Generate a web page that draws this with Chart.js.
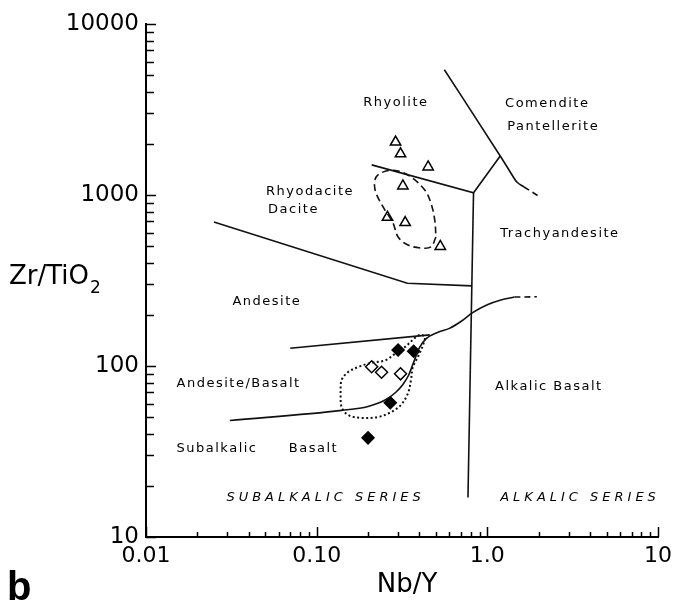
<!DOCTYPE html>
<html>
<head>
<meta charset="utf-8">
<script src="https://cdn.jsdelivr.net/npm/chart.js@4.4.1/dist/chart.umd.min.js"></script>
<style>
  html, body { margin: 0; padding: 0; background: #fff; }
  #wrap { width: 678px; height: 603px; position: relative; }
</style>
</head>
<body>
<div id="wrap"><canvas id="chart"></canvas></div>
<script>
// axis ticks
const xTickValues = [0.01, 0.1, 1, 10]
const xTickLabels = ["0.01", "0.10", "1.0", "10"]
const yTickValues = [10, 100, 1000, 10000]
const yTickLabels = ["10", "100", "1000", "10000"]

// samples: Nb/Y vs Zr/TiO2
const triangleX = [0.29, 0.31, 0.45, 0.32, 0.26, 0.33, 0.53]
const triangleY = [2040, 1740, 1460, 1130, 740, 690, 500]
const filledDiamondX = [0.30, 0.37, 0.27, 0.20]
const filledDiamondY = [124, 122, 61, 38]
const openDiamondX = [0.21, 0.24, 0.31]
const openDiamondY = [99, 92, 90]

// field boundaries
const rhyodaciteLineX = [0.025, 0.34, 0.81]
const rhyodaciteLineY = [695, 305, 294]
const alkalicLineX = [0.83, 0.77]
const alkalicLineY = [1030, 17]
const rhyoliteLineX = [0.21, 0.83, 1.19]
const rhyoliteLineY = [1500, 1030, 1690]
const comenditeLineX = [0.56, 1.19, 1.34, 1.49, 1.64]
const comenditeLineY = [5400, 1690, 1400, 1190, 1114]
const comenditeDashX = [1.64, 2.03]
const comenditeDashY = [1114, 975]
const andesiteBasaltX = [0.07, 0.46]
const andesiteBasaltY = [127, 152]
const basaltCurveX = [0.031, 0.14, 0.20, 0.25, 0.29, 0.32, 0.345, 0.37, 0.40, 0.44, 0.51, 0.60, 0.70, 0.82, 1.0, 1.2, 1.44]
const basaltCurveY = [48, 55, 58, 63, 70, 78, 88, 105, 128, 145, 157, 166, 182, 205, 228, 243, 253]
const basaltDashX = [1.44, 1.95]
const basaltDashY = [253, 254]

// sample envelopes
const felsicLoopX = [0.50, 0.467, 0.408, 0.343, 0.30, 0.28, 0.245, 0.22, 0.223, 0.255, 0.30, 0.357, 0.43, 0.467, 0.492, 0.50]
const felsicLoopY = [568, 497, 490, 510, 568, 686, 851, 1070, 1274, 1381, 1381, 1274, 1070, 898, 714, 568]
const maficLoopX = [0.138, 0.14, 0.153, 0.175, 0.206, 0.252, 0.292, 0.329, 0.377, 0.403, 0.43, 0.42, 0.392, 0.366, 0.357, 0.343, 0.312, 0.273, 0.229, 0.183, 0.153, 0.14, 0.138]
const maficLoopY = [69.5, 82.8, 92.2, 98.6, 104, 108, 119, 129, 146, 152, 148, 133, 113, 98.6, 82.8, 69.5, 59.2, 53.8, 50.3, 49.7, 51.7, 57.5, 69.5]

// field names (left edge, middle)
const fieldNames = ["Rhyolite", "Comendite", "Pantellerite", "Rhyodacite", "Dacite", "Trachyandesite",
  "Andesite", "Andesite/Basalt", "Subalkalic", "Basalt", "Alkalic Basalt"]
const fieldNameX = [0.1875, 1.27, 1.31, 0.0505, 0.0519, 1.19, 0.0321, 0.0151, 0.0151, 0.0687, 1.11]
const fieldNameY = [3450, 3400, 2500, 1041, 817, 591, 237, 78.5, 32.7, 32.7, 75.3]
const seriesNames = ["SUBALKALIC SERIES", "ALKALIC SERIES"]
const seriesNameX = [0.0296, 1.19]
const seriesNameY = [16.9, 16.9]

const pts = (xs, ys) => xs.map((x, i) => ({ x, y: ys[i] }))

const line = (xs, ys, extra = {}) => ({
  type: "line",
  data: pts(xs, ys),
  borderColor: "#111",
  borderWidth: 1.6,
  pointRadius: 0,
  fill: false,
  ...extra
})

const marker = (xs, ys, style, fill, radius) => ({
  type: "scatter",
  data: pts(xs, ys),
  pointStyle: style,
  pointRadius: radius,
  pointBackgroundColor: fill,
  pointBorderColor: "#000",
  pointBorderWidth: 1.5
})

const decor = {
  id: "decor",
  afterDatasetsDraw(chart) {
    const { ctx, chartArea: a, scales: { x, y } } = chart
    ctx.save()
    ctx.strokeStyle = "#000"
    ctx.lineWidth = 1.5
    // inward tick marks
    for (let e = -2; e <= 1; e++) {
      for (let m = 1; m <= 9; m++) {
        const v = m * Math.pow(10, e)
        if (v > 10.0001) break
        const px = Math.round(x.getPixelForValue(v)) + 0.5
        const len = m === 1 ? 10 : 5
        ctx.beginPath(); ctx.moveTo(px, a.bottom); ctx.lineTo(px, a.bottom - len); ctx.stroke()
      }
    }
    for (let e = 1; e <= 4; e++) {
      for (let m = 1; m <= 9; m++) {
        const v = m * Math.pow(10, e)
        if (v > 10000.1) break
        const py = Math.round(y.getPixelForValue(v)) + 0.5
        const len = m === 1 ? 10 : 8
        ctx.beginPath(); ctx.moveTo(a.left, py); ctx.lineTo(a.left + len, py); ctx.stroke()
      }
    }

    ctx.fillStyle = "#000"
    ctx.textBaseline = "middle"
    ctx.textAlign = "left"
    ctx.font = "13px 'DejaVu Sans'"
    ctx.letterSpacing = "1.5px"
    fieldNames.forEach((t, i) => {
      ctx.fillText(t, x.getPixelForValue(fieldNameX[i]), y.getPixelForValue(fieldNameY[i]))
    })
    ctx.font = "oblique 13px 'DejaVu Sans'"
    ctx.letterSpacing = "4px"
    seriesNames.forEach((t, i) => {
      ctx.fillText(t, x.getPixelForValue(seriesNameX[i]), y.getPixelForValue(seriesNameY[i]))
    })

    // axis titles
    ctx.letterSpacing = "0px"
    ctx.font = "26px 'DejaVu Sans'"
    ctx.textAlign = "center"
    ctx.fillText("Nb/Y", 407, 585)
    ctx.textAlign = "left"
    ctx.fillText("Zr/TiO", 9, 277)
    const w = ctx.measureText("Zr/TiO").width
    ctx.font = "17px 'DejaVu Sans'"
    ctx.fillText("2", 9 + w + 1, 289)

    ctx.font = "bold 40px 'Liberation Sans Narrow', 'Liberation Sans'"
    ctx.textBaseline = "alphabetic"
    ctx.fillText("b", 7, 600)
    ctx.restore()
  }
}

new Chart(document.getElementById("chart"), {
  data: {
    datasets: [
      line(rhyodaciteLineX, rhyodaciteLineY),
      line(alkalicLineX, alkalicLineY),
      line(rhyoliteLineX, rhyoliteLineY),
      line(comenditeLineX, comenditeLineY, { cubicInterpolationMode: "monotone" }),
      line(comenditeDashX, comenditeDashY, { borderDash: [6, 4] }),
      line(andesiteBasaltX, andesiteBasaltY),
      line(basaltCurveX, basaltCurveY, { cubicInterpolationMode: "monotone" }),
      line(basaltDashX, basaltDashY, { borderDash: [6, 4] }),
      line(felsicLoopX, felsicLoopY, { tension: 0.35, borderDash: [7, 4] }),
      line(maficLoopX, maficLoopY, { tension: 0.35, borderDash: [2, 2.5], borderWidth: 2 }),
      marker(triangleX, triangleY, "triangle", "#fff", 6),
      marker(openDiamondX, openDiamondY, "rectRot", "#fff", 6),
      marker(filledDiamondX, filledDiamondY, "rectRot", "#000", 6)
    ]
  },
  options: {
    responsive: true,
    maintainAspectRatio: false,
    animation: false,
    layout: { padding: { top: 24, right: 16, left: 0, bottom: 0 } },
    plugins: { legend: { display: false }, tooltip: { enabled: false } },
    scales: {
      x: {
        type: "logarithmic",
        min: 0.01,
        max: 10,
        afterFit: (s) => { s.height = 66 },
        afterBuildTicks: (s) => { s.ticks = xTickValues.map(v => ({ value: v })) },
        grid: { display: false, drawTicks: false },
        border: { display: true, color: "#000", width: 2 },
        ticks: {
          autoSkip: false,
          maxRotation: 0,
          padding: 6,
          color: "#000",
          font: { family: "DejaVu Sans", size: 22 },
          callback: (v) => xTickLabels[xTickValues.findIndex(t => Math.abs(t - v) < t * 1e-6)] ?? ""
        }
      },
      y: {
        type: "logarithmic",
        min: 10,
        max: 10000,
        afterFit: (s) => { s.width = 146 },
        afterBuildTicks: (s) => { s.ticks = yTickValues.map(v => ({ value: v })) },
        grid: { display: false, drawTicks: false },
        border: { display: true, color: "#000", width: 2 },
        ticks: {
          autoSkip: false,
          padding: 7,
          color: "#000",
          font: { family: "DejaVu Sans", size: 23 },
          callback: (v) => yTickLabels[yTickValues.findIndex(t => Math.abs(t - v) < t * 1e-6)] ?? ""
        }
      }
    }
  },
  plugins: [decor]
})
</script>
</body>
</html>
